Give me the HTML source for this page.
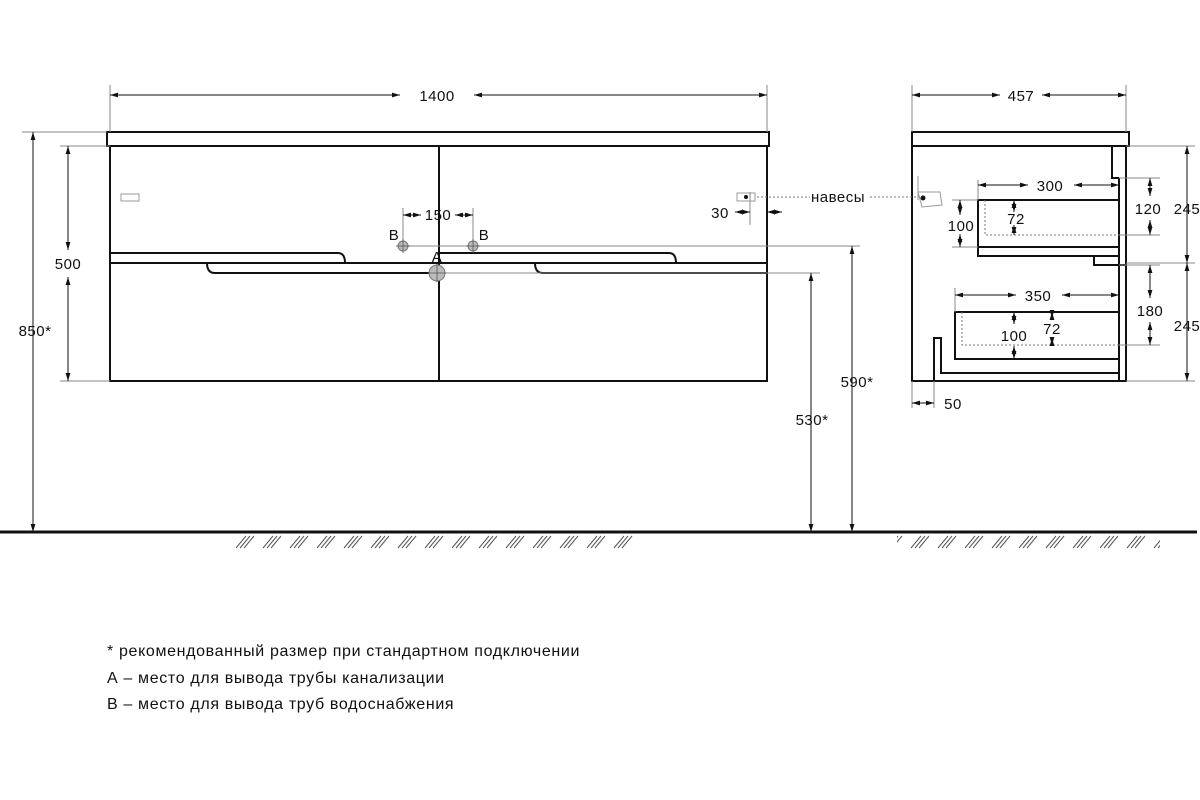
<!DOCTYPE html>
<html><head><meta charset="utf-8"><style>
html,body{margin:0;padding:0;background:#fff}
svg{display:block}
text{font-family:"Liberation Sans","DejaVu Sans",sans-serif;fill:#111}
</style></head><body>
<svg width="1200" height="800" viewBox="0 0 1200 800" xmlns="http://www.w3.org/2000/svg">
<defs>
<marker id="a" viewBox="0 0 10 10" refX="10" refY="5" markerWidth="8" markerHeight="8" orient="auto-start-reverse"><path d="M0,2 L10,5 L0,8z" fill="#111"/></marker>
<pattern id="h" x="235" y="535" width="27" height="14" patternUnits="userSpaceOnUse"><path d="M1,13 L11,1 M5,13 L15,1 M9,13 L19,1" stroke="#555" stroke-width="1"/></pattern>
</defs>
<g fill="none" stroke="#111" stroke-width="2">
<rect x="107" y="132" width="662" height="14"/>
<rect x="110" y="146" width="657" height="235"/>
<line x1="439" y1="146" x2="439" y2="381"/>
<line x1="110" y1="263" x2="767" y2="263"/>
<path d="M110,253 H338 Q345,253 345,263"/>
<path d="M439,253 H669 Q676,253 676,263"/>
<path d="M207,263 Q207,273 215,273 H439"/>
<path d="M535,263 Q535,273 543,273 H767"/>
<rect x="912" y="132" width="217" height="14"/>
<rect x="912" y="146" width="214" height="235"/>
<line x1="1119" y1="178" x2="1119" y2="381"/>
<path d="M1112,146 V178 H1119"/>
<rect x="978" y="200" width="141" height="56"/>
<line x1="978" y1="247" x2="1119" y2="247"/>
<path d="M1094,256 V265 H1126"/>
<rect x="955" y="312" width="164" height="47"/>
<path d="M934,381 V338 H941 V373 H1119"/>
</g>
<g stroke="#777" stroke-width="1" fill="none" stroke-dasharray="2,2">
<path d="M985,200 V235 H1119"/>
<path d="M962,312 V345 H1119"/>
<line x1="757" y1="197" x2="810" y2="197"/>
<line x1="870" y1="197" x2="922" y2="197"/>
</g>
<g stroke="#888" stroke-width="1">
<line x1="110" y1="85" x2="110" y2="132"/><line x1="767" y1="85" x2="767" y2="132"/>
<line x1="912" y1="85" x2="912" y2="132"/><line x1="1126" y1="85" x2="1126" y2="132"/>
<line x1="22" y1="132" x2="107" y2="132"/>
<line x1="60" y1="146" x2="110" y2="146"/><line x1="60" y1="381" x2="110" y2="381"/>
<line x1="400" y1="246" x2="860" y2="246"/>
<line x1="437" y1="273" x2="820" y2="273"/>
<line x1="403" y1="208" x2="403" y2="250"/><line x1="473" y1="208" x2="473" y2="250"/>
<line x1="750" y1="192" x2="750" y2="225"/>
<line x1="1126" y1="146" x2="1195" y2="146"/><line x1="1126" y1="263" x2="1195" y2="263"/><line x1="1126" y1="381" x2="1195" y2="381"/>
<line x1="1119" y1="178" x2="1160" y2="178"/><line x1="1119" y1="235" x2="1160" y2="235"/>
<line x1="1119" y1="265" x2="1160" y2="265"/><line x1="1119" y1="345" x2="1160" y2="345"/>
<line x1="952" y1="200" x2="978" y2="200"/><line x1="952" y1="247" x2="978" y2="247"/>
<line x1="978" y1="180" x2="978" y2="200"/><line x1="955" y1="288" x2="955" y2="312"/>
<line x1="912" y1="381" x2="912" y2="408"/><line x1="934" y1="381" x2="934" y2="408"/>
</g>
<g stroke="#111" stroke-width="1" marker-start="url(#a)" marker-end="url(#a)">
<line x1="110" y1="95" x2="400" y2="95" marker-end=""/><line x1="474" y1="95" x2="767" y2="95" marker-start=""/>
<line x1="912" y1="95" x2="1000" y2="95" marker-end=""/><line x1="1042" y1="95" x2="1126" y2="95" marker-start=""/>
<line x1="33" y1="132" x2="33" y2="532"/>
<line x1="68" y1="146" x2="68" y2="250" marker-end=""/><line x1="68" y1="277" x2="68" y2="381" marker-start=""/>
<line x1="403" y1="215" x2="421" y2="215" marker-end=""/><line x1="455" y1="215" x2="473" y2="215" marker-start=""/>
<line x1="852" y1="246" x2="852" y2="532"/>
<line x1="811" y1="273" x2="811" y2="532"/>
<line x1="735" y1="212" x2="750" y2="212" marker-start=""/><line x1="782" y1="212" x2="767" y2="212" marker-start=""/>
<line x1="978" y1="185" x2="1028" y2="185" marker-end=""/><line x1="1074" y1="185" x2="1119" y2="185" marker-start=""/>
<line x1="955" y1="295" x2="1016" y2="295" marker-end=""/><line x1="1062" y1="295" x2="1119" y2="295" marker-start=""/>
<line x1="960" y1="200" x2="960" y2="215" marker-end=""/><line x1="960" y1="234" x2="960" y2="247" marker-start=""/>
<line x1="1014" y1="200" x2="1014" y2="212" marker-end=""/><line x1="1014" y1="225" x2="1014" y2="235" marker-start=""/>
<line x1="1150" y1="178" x2="1150" y2="196" marker-end=""/><line x1="1150" y1="220" x2="1150" y2="235" marker-start=""/>
<line x1="1150" y1="265" x2="1150" y2="298" marker-end=""/><line x1="1150" y1="322" x2="1150" y2="345" marker-start=""/>
<line x1="1187" y1="146" x2="1187" y2="263"/><line x1="1187" y1="263" x2="1187" y2="381"/>
<line x1="1014" y1="312" x2="1014" y2="324" marker-end=""/><line x1="1014" y1="346" x2="1014" y2="359" marker-start=""/>
<line x1="1052" y1="312" x2="1052" y2="318" marker-end=""/><line x1="1052" y1="338" x2="1052" y2="345" marker-start=""/>
<line x1="912" y1="403" x2="934" y2="403"/>
</g>
<line x1="0" y1="532" x2="1197" y2="532" stroke="#111" stroke-width="3"/>
<rect x="235" y="535" width="405" height="14" fill="url(#h)"/>
<rect x="897" y="535" width="263" height="14" fill="url(#h)"/>
<g fill="#bbb" stroke="#777" stroke-width="1">
<circle cx="403" cy="246" r="5"/><circle cx="473" cy="246" r="5"/><circle cx="437" cy="273" r="8"/>
</g>
<g stroke="#555" stroke-width="0.8"><line x1="396" y1="246" x2="410" y2="246"/><line x1="403" y1="239" x2="403" y2="253"/>
<line x1="466" y1="246" x2="480" y2="246"/><line x1="473" y1="239" x2="473" y2="253"/>
<line x1="428" y1="273" x2="446" y2="273"/><line x1="437" y1="264" x2="437" y2="282"/></g>
<g fill="none" stroke="#999" stroke-width="1">
<rect x="121" y="194" width="18" height="7"/><rect x="737" y="193" width="18" height="8"/>
<path d="M918,176 V200 M918,192 H940 L942,205 L922,207 Z"/>
</g>
<circle cx="746" cy="197" r="2" fill="#111"/><circle cx="923" cy="198" r="2.5" fill="#111"/>
<g font-size="15" text-anchor="middle" letter-spacing="0.5">
<text x="437" y="101">1400</text>
<text x="1021" y="101">457</text>
<text x="35" y="336">850*</text>
<text x="68" y="269">500</text>
<text x="438" y="220">150</text>
<text x="394" y="240">B</text><text x="484" y="240">B</text><text x="437" y="262">A</text>
<text x="720" y="218">30</text>
<text x="838" y="202">навесы</text>
<text x="857" y="387">590*</text>
<text x="812" y="425">530*</text>
<text x="1050" y="191">300</text>
<text x="961" y="231">100</text>
<text x="1016" y="224">72</text>
<text x="1148" y="214">120</text>
<text x="1187" y="214">245</text>
<text x="1187" y="331">245</text>
<text x="1150" y="316">180</text>
<text x="1038" y="301">350</text>
<text x="1014" y="341">100</text>
<text x="1052" y="334">72</text>
<text x="953" y="409">50</text>
</g>
<g font-size="16" letter-spacing="0.65">
<text x="107" y="656">* рекомендованный размер при стандартном подключении</text>
<text x="107" y="683">А – место для вывода трубы канализации</text>
<text x="107" y="709">В – место для вывода труб водоснабжения</text>
</g>
</svg>
</body></html>
